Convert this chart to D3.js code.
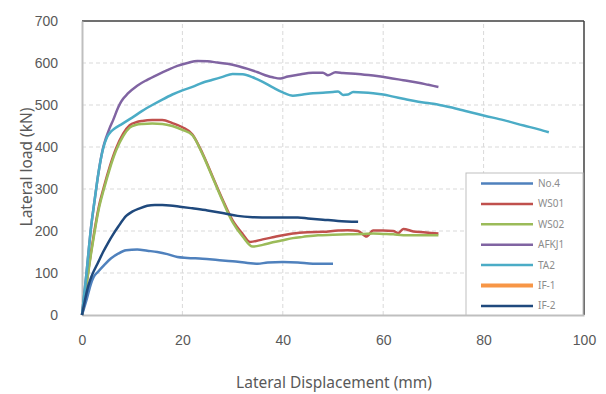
<!DOCTYPE html>
<html>
<head>
<meta charset="utf-8">
<script src="https://cdn.jsdelivr.net/npm/d3@7"></script>
<style>
  body { margin: 0; background: #fff; }
  svg { display: block; font-family: "Noto Sans", sans-serif; }
</style>
</head>
<body>
<svg id="chart" width="606" height="394"></svg>
<script>
// series names and colours (legend order)
const seriesNames = ["No.4", "WS01", "WS02", "AFKJ1", "TA2", "IF-1", "IF-2"];
const seriesColors = ["#4f81bd", "#c0504d", "#9bbb59", "#8064a2", "#4bacc6", "#f79646", "#1f497d"];

// [displacement mm, load kN]
const no4 = [[0,0],[1,40],[1.8,75],[2.3,90],[3.2,103],[4.5,120],[5.8,135],[7.2,146],[8.8,154],[11,156],[13,153],[15,150],[17,145],[19,138],[21,136],[24,134],[27,131],[30,128],[33,124],[35,122],[37,125],[40,126],[43,125],[46,122],[50,122]];
const ws01 = [[0,0],[0.6,50],[1.2,100],[1.8,150],[2.4,195],[3.3,255],[4.3,302],[5.5,352],[6.8,397],[8.2,432],[9.5,452],[10.8,459],[12,462],[14,464],[16,464],[18,457],[20,447],[22,430],[24,385],[26,330],[28,275],[30,225],[32,193],[33.5,174],[36,180],[38,185],[40,190],[42,194],[45,197],[48,198],[51,201],[53,202],[55,200],[56.7,187],[58,201],[60,201],[62,200],[63,195],[64,205],[66,199],[68,197],[71,194]];
const ws02 = [[0,0],[0.6,48],[1.2,97],[1.8,146],[2.4,190],[3.3,250],[4.3,297],[5.5,347],[6.8,392],[8.2,426],[9.5,446],[10.8,453],[12,455],[14,456],[16,455],[18,450],[20,441],[22,428],[24,383],[26,328],[28,272],[30,221],[32,187],[34,163],[36,167],[38,173],[40,178],[42,183],[44,186],[47,190],[50,191],[53,192],[56,193],[58,194],[60,193],[62,192],[64,190],[67,190],[71,190]];
const afkj1 = [[0,0],[0.45,50],[0.9,100],[1.3,150],[1.7,198],[2.5,272],[3.3,340],[4.2,398],[4.8,422],[5.5,445],[6.2,464],[7.2,494],[7.8,508],[9.2,528],[11,546],[13,560],[15,572],[17,583],[19,593],[21,600],[23,605],[25,604],[27,601],[29,598],[31,593],[33,586],[35,578],[37,569],[38,566],[39.5,563],[41,568],[43,572],[46,577],[48,577],[49,571],[50.5,578],[52,576],[55,574],[58,570],[61,565],[64,559],[67,553],[69,548],[71,543]];
const ta2 = [[0,0],[0.45,50],[0.9,100],[1.3,150],[1.7,198],[2.5,272],[3.3,340],[4.2,396],[5,424],[5.8,437],[6.5,444],[8,455],[10,470],[12,486],[14,500],[16,513],[18,525],[20,535],[22,543],[24,553],[26,560],[28,567],[30,574],[32,573],[34,566],[36,555],[38,542],[40,530],[42,522],[44,525],[46,528],[48,529],[50,531],[51,532],[52,524],[53,525],[54,531],[56,530],[58,528],[60,525],[62,520],[64,515],[66,510],[68,506],[70,503],[72,498],[75,490],[78,481],[80,475],[84,464],[88,451],[91,442],[93,435]];
const if1 = [];
const if2 = [[0,0],[0.5,30],[1.2,67],[2,95],[3.2,125],[4.2,150],[5.2,172],[6.2,192],[7.2,210],[8.8,236],[10,246],[11.5,254],[13,260],[14.5,262],[16,262],[17.5,261],[19.5,258],[22,254],[25,249],[28,243],[31,236],[34,233],[37.5,232],[40,232],[43,232],[45,230],[48,227],[51,224],[55,222]];
const seriesData = [no4, ws01, ws02, afkj1, ta2, if1, if2];

const xTicks = [0, 20, 40, 60, 80, 100];
const yTicks = [0, 100, 200, 300, 400, 500, 600, 700];

const margin = { left: 82, right: 22, top: 21, bottom: 79 };
const width = 606, height = 394;
const svg = d3.select("#chart");

const x = d3.scaleLinear().domain([0, 100]).range([margin.left, width - margin.right]);
const y = d3.scaleLinear().domain([0, 700]).range([height - margin.bottom, margin.top]);

// grid
svg.append("g")
    .selectAll("line")
    .data(yTicks.slice(1, -1))
    .join("line")
    .attr("x1", x(0)).attr("x2", x(100))
    .attr("y1", d => y(d)).attr("y2", d => y(d))
    .attr("stroke", "#d9d9d9")
    .attr("stroke-dasharray", "4,3");
svg.append("g")
    .selectAll("line")
    .data(xTicks.slice(1, -1))
    .join("line")
    .attr("x1", d => x(d)).attr("x2", d => x(d))
    .attr("y1", y(0)).attr("y2", y(700))
    .attr("stroke", "#d9d9d9")
    .attr("stroke-dasharray", "4,3");

// frame: top/right dark, left/bottom gray axes
svg.append("line")
    .attr("x1", x(0)).attr("x2", x(100)).attr("y1", y(700)).attr("y2", y(700))
    .attr("stroke", "#404040").attr("stroke-width", 1.5);
svg.append("line")
    .attr("x1", x(100)).attr("x2", x(100)).attr("y1", y(700)).attr("y2", y(0))
    .attr("stroke", "#404040").attr("stroke-width", 1.5);

// axes
const xAxis = svg.append("g")
    .attr("transform", `translate(0,${y(0)})`)
    .call(d3.axisBottom(x).tickValues(xTicks).tickSize(0).tickPadding(20));
const yAxis = svg.append("g")
    .attr("transform", `translate(${x(0)},0)`)
    .call(d3.axisLeft(y).tickValues(yTicks).tickSize(0).tickPadding(24));
[xAxis, yAxis].forEach(a => {
    a.select(".domain").attr("stroke", "#bfbfbf").attr("stroke-width", 2);
    a.selectAll("text").attr("fill", "#595959").style("font-size", "14px");
});

// curves
const line = d3.line().x(d => x(d[0])).y(d => y(d[1])).curve(d3.curveMonotoneX);
svg.append("g")
    .selectAll("path")
    .data(seriesData)
    .join("path")
    .attr("d", d => d.length ? line(d) : null)
    .attr("fill", "none")
    .attr("stroke", (d, i) => seriesColors[i])
    .attr("stroke-width", 2.5)
    .attr("stroke-linejoin", "round");

// axis titles
svg.append("text")
    .attr("x", (x(0) + x(100)) / 2 + 1)
    .attr("y", 388)
    .attr("text-anchor", "middle")
    .attr("fill", "#595959")
    .style("font-size", "15.5px")
    .text("Lateral Displacement (mm)");
svg.append("text")
    .attr("transform", `translate(32,${y(350) - 1}) rotate(-90)`)
    .attr("text-anchor", "middle")
    .attr("fill", "#595959")
    .style("font-size", "15.5px")
    .text("Lateral load (kN)");

// legend
const legend = svg.append("g").attr("transform", "translate(466,173)");
legend.append("rect")
    .attr("width", 117).attr("height", 142)
    .attr("fill", "#fff").attr("stroke", "#bfbfbf");
const item = legend.selectAll("g.item")
    .data(seriesNames)
    .join("g")
    .attr("class", "item")
    .attr("transform", (d, i) => `translate(0,${10.5 + i * 20.4})`);
item.append("line")
    .attr("x1", 15).attr("x2", 67)
    .attr("stroke", (d, i) => seriesColors[i])
    .attr("stroke-width", (d, i) => seriesNames[i] === "IF-1" ? 4 : 2.5);
item.append("text")
    .attr("x", 72).attr("dy", "0.35em")
    .attr("fill", "#8c8c8c")
    .style("font-size", "10px")
    .text(d => d);
</script>
</body>
</html>
